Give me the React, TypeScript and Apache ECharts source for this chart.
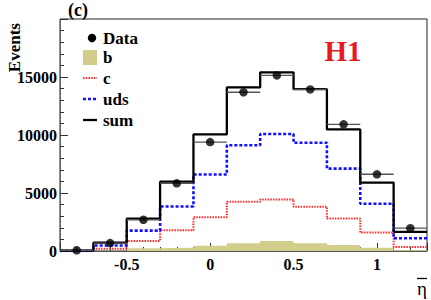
import React, { useEffect, useRef } from "react";
import * as echarts from "echarts";

const binLow = [-0.9, -0.7, -0.5, -0.3, -0.1, 0.1, 0.3, 0.5, 0.7, 0.9, 1.1];
const binHigh = [-0.7, -0.5, -0.3, -0.1, 0.1, 0.3, 0.5, 0.7, 0.9, 1.1, 1.3];
const dataValues = [60, 680, 2690, 5830, 9390, 13690, 15140, 13930, 10920, 6610, 1970];
const sumValues = [30, 720, 2780, 5980, 10050, 14100, 15400, 13950, 10480, 5900, 1650];
const udsValues = [10, 470, 1760, 3840, 6590, 9120, 10080, 9330, 7100, 4070, 1100];
const cValues = [5, 190, 870, 1780, 2920, 4250, 4450, 3810, 2800, 1590, 350];
const bValues = [5, 30, 230, 290, 460, 660, 860, 670, 520, 290, 60];
const legendNames = ["Data", "b", "c", "uds", "sum"];

const SERIF = "'Liberation Serif', 'Times New Roman', serif";
const OLIVE = "#d3cd8b";
const RED = "#ff2a2a";
const BLUE = "#1010ff";

function histPoints(values: number[]) {
  const pts: number[][] = [];
  values.forEach((v, i) => {
    pts.push([binLow[i], v]);
    pts.push([binHigh[i], v]);
  });
  return pts;
}

export default function App() {
  const ref = useRef<HTMLDivElement>(null);
  useEffect(() => {
    if (!ref.current) return;
    const chart = echarts.init(ref.current, null, { renderer: "svg" });
    const legendY = [38, 57.5, 78, 99, 120];
    const labelStyle = {
      fontFamily: SERIF,
      fontWeight: "bold",
      fontSize: 16,
      color: "#000",
    };
    const option: any = {
      animation: false,
      grid: {
        left: 60,
        top: 19,
        right: 4,
        bottom: 49,
        show: true,
        borderColor: "#222",
        borderWidth: 1,
        backgroundColor: "transparent",
      },
      xAxis: {
        type: "value",
        min: -0.9,
        max: 1.3,
        minInterval: 0.5,
        maxInterval: 0.5,
        axisLine: { onZero: false, lineStyle: { color: "#555", width: 1 } },
        axisTick: { inside: true, length: 8, lineStyle: { color: "#333" } },
        minorTick: { show: true, splitNumber: 5, length: 4, lineStyle: { color: "#333" } },
        splitLine: { show: false },
        axisLabel: {
          showMinLabel: false,
          showMaxLabel: false,
          margin: 5,
          formatter: (v: number) => String(Math.round(v * 10) / 10),
          ...labelStyle,
        },
      },
      yAxis: {
        type: "value",
        min: 0,
        max: 20000,
        interval: 5000,
        axisLine: { show: true, onZero: false, lineStyle: { color: "#666", width: 1 } },
        axisTick: { inside: true, length: 8, lineStyle: { color: "#333" } },
        minorTick: { show: true, splitNumber: 5, length: 4, lineStyle: { color: "#333" } },
        splitLine: { show: false },
        axisLabel: {
          showMaxLabel: false,
          margin: 3,
          formatter: (v: number) => String(v),
          ...labelStyle,
        },
      },
      series: [
        {
          name: "b",
          type: "line",
          data: histPoints(bValues),
          symbol: "none",
          lineStyle: { width: 0 },
          areaStyle: { color: OLIVE, opacity: 1 },
          z: 1,
        },
        {
          name: "c",
          type: "line",
          data: histPoints(cValues),
          symbol: "none",
          lineStyle: { color: RED, width: 2, type: [1.5, 1.2] },
          z: 2,
        },
        {
          name: "uds",
          type: "line",
          data: histPoints(udsValues),
          symbol: "none",
          lineStyle: { color: BLUE, width: 2.6, type: [3, 2] },
          z: 3,
        },
        {
          name: "sum",
          type: "line",
          data: histPoints(sumValues),
          symbol: "none",
          lineStyle: { color: "#000", width: 2.3 },
          z: 4,
        },
        {
          name: "Data error",
          type: "custom",
          data: dataValues.map((v, i) => [binLow[i], binHigh[i], v]),
          encode: { x: [0, 1], y: 2 },
          renderItem: (params: any, api: any) => {
            const lo = api.coord([api.value(0), api.value(2)]);
            const hi = api.coord([api.value(1), api.value(2)]);
            return {
              type: "line",
              shape: { x1: lo[0], y1: lo[1], x2: hi[0], y2: hi[1] },
              style: { stroke: "#555", lineWidth: 1.4 },
            };
          },
          z: 5,
        },
        {
          name: "Data",
          type: "scatter",
          data: dataValues.map((v, i) => [(binLow[i] + binHigh[i]) / 2, v]),
          symbol: "circle",
          symbolSize: 8.5,
          itemStyle: { color: "#000" },
          z: 6,
        },
      ],
      graphic: [
        {
          type: "text",
          left: 68,
          top: 1,
          style: { text: "(c)", font: `bold 18px ${SERIF}`, fill: "#000" },
        },
        {
          type: "text",
          x: 14,
          y: 23,
          rotation: Math.PI / 2,
          style: {
            text: "Events",
            font: `bold 17px ${SERIF}`,
            fill: "#000",
            align: "right",
            verticalAlign: "middle",
          },
        },
        {
          type: "text",
          x: 422,
          y: 279,
          style: {
            text: "\u03b7",
            font: `19px ${SERIF}`,
            fill: "#000",
            align: "center",
            verticalAlign: "top",
          },
        },
        {
          type: "line",
          shape: { x1: 417, y1: 278.5, x2: 427, y2: 278.5 },
          style: { stroke: "#000", lineWidth: 1.3 },
        },
        {
          type: "text",
          x: 343,
          y: 51,
          style: {
            text: "H1",
            font: `bold 29px ${SERIF}`,
            fill: "#e8191c",
            align: "center",
            verticalAlign: "middle",
          },
        },
        { type: "circle", shape: { cx: 92, cy: legendY[0], r: 4.2 }, style: { fill: "#000" } },
        { type: "rect", shape: { x: 83, y: 50, width: 14, height: 15 }, style: { fill: OLIVE } },
        {
          type: "line",
          shape: { x1: 83, y1: legendY[2], x2: 97, y2: legendY[2] },
          style: { stroke: RED, lineWidth: 2, lineDash: [1.5, 1.2] },
        },
        {
          type: "line",
          shape: { x1: 83, y1: legendY[3], x2: 97, y2: legendY[3] },
          style: { stroke: BLUE, lineWidth: 2.6, lineDash: [3, 2] },
        },
        {
          type: "line",
          shape: { x1: 83, y1: legendY[4], x2: 97, y2: legendY[4] },
          style: { stroke: "#000", lineWidth: 2.3 },
        },
        ...legendNames.map((n, i) => ({
          type: "text",
          x: 103,
          y: legendY[i],
          style: {
            text: n,
            font: `bold 17px ${SERIF}`,
            fill: "#000",
            align: "left",
            verticalAlign: "middle",
          },
        })),
      ],
    };
    chart.setOption(option);
    return () => chart.dispose();
  }, []);
  return (
    <div
      ref={ref}
      style={{ position: "absolute", left: 0, top: 0, width: 431, height: 300 }}
    />
  );
}
